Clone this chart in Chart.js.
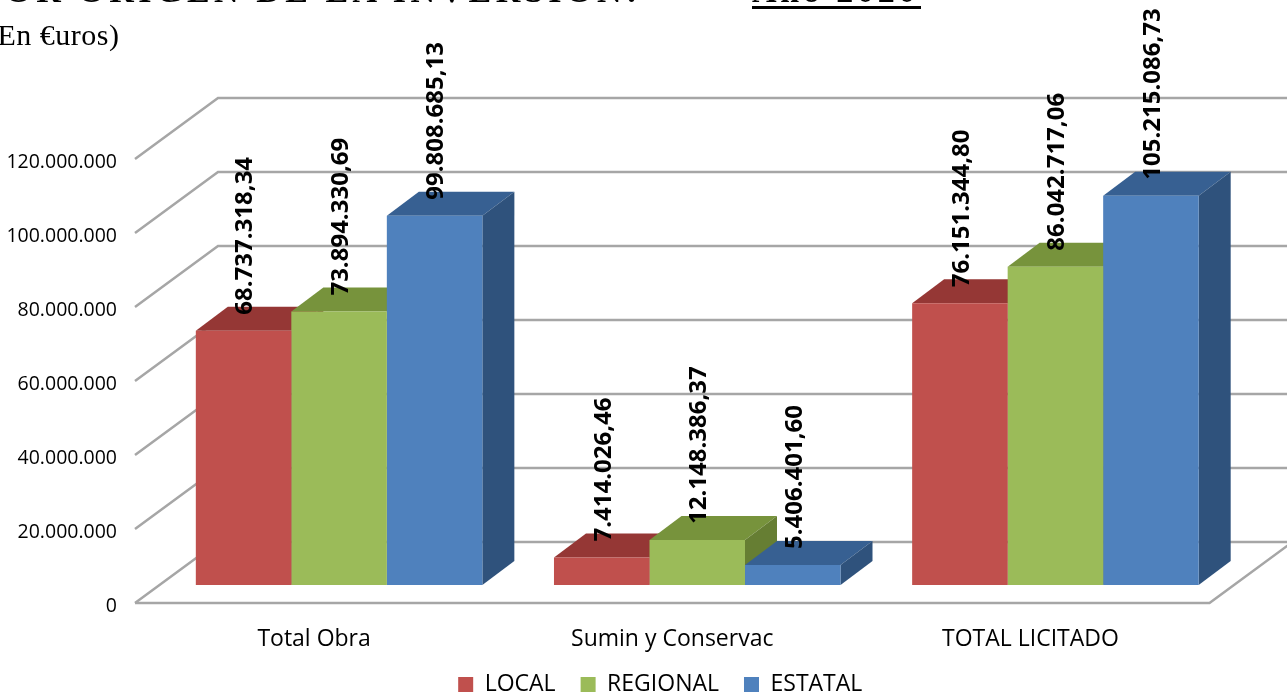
<!DOCTYPE html>
<html lang="es">
<head>
<meta charset="utf-8">
<title>Origen de la inversión</title>
<script src="https://cdn.jsdelivr.net/npm/chart.js@4"></script>
<style>
  html, body { margin:0; padding:0; background:#fff; width:1287px; height:695px; overflow:hidden; }
  #wrap { position:relative; width:1287px; height:695px; overflow:hidden; }
  canvas { position:absolute; left:0; top:0; }
  .head { position:absolute; font-family:'Liberation Serif', serif; color:#000; white-space:nowrap; line-height:1; }
  #headMain { left:-20px; top:-26px; font-size:34px; font-weight:bold; letter-spacing:4.5px; }
  #headYear { left:752px; top:-25px; width:169px; height:31px; line-height:32px; font-size:34px; font-weight:bold; letter-spacing:3.8px; border-bottom:3px solid #000; }
  #headUnit { left:-13px; top:20px; font-size:30px; letter-spacing:0.5px; }
</style>
</head>
<body>
<div id="wrap">
  <canvas id="chart" width="1287" height="695"></canvas>
  <div class="head" id="headMain">POR ORIGEN DE LA INVERSIÓN:</div>
  <div class="head" id="headYear">Año 2020</div>
  <div class="head" id="headUnit">(En €uros)</div>
</div>
<script>
/* Inversión licitada por origen - barras 3D dibujadas a mano sobre Chart.js */

const categories = ['Total Obra', 'Sumin y Conservac', 'TOTAL LICITADO'];
const local    = [68737318.34, 7414026.46, 76151344.80];
const regional = [73894330.69, 12148386.37, 86042717.06];
const estatal  = [99808685.13, 5406401.60, 105215086.73];
const seriesNames = ['LOCAL', 'REGIONAL', 'ESTATAL'];

const FRONT = ['#c0504d', '#9bbb59', '#4f81bd'];
const TOP   = ['#953735', '#77933c', '#376092'];
const SIDE  = ['#7f2f2d', '#667e33', '#2f527c'];
const GRID  = '#a6a6a6';

const AXIS_MAX = 120000000;
const FLOOR_PX = 18;    // bars stand this far above the front edge of the floor
const AREA_PX = 444;    // height of the plot area
const barsMin = -FLOOR_PX / AREA_PX * AXIS_MAX;

const fmtTick = v => String(Math.round(v)).replace(/\B(?=(\d{3})+$)/g, '.');
const fmtVal = v => {
  const [a, b] = v.toFixed(2).split('.');
  return a.replace(/\B(?=(\d{3})+$)/g, '.') + ',' + b;
};

const walls = {
  id: 'walls',
  beforeDatasetsDraw(chart) {
    const { ctx, chartArea, scales } = chart;
    const left = chartArea.left - 25, right = chartArea.right - 25;
    const dx = 83, dy = 61;
    ctx.save();
    ctx.strokeStyle = GRID;
    ctx.lineWidth = 2.5;
    scales.y.ticks.forEach(t => {
      const y = scales.y.getPixelForValue(t.value);
      ctx.beginPath();
      ctx.moveTo(left, y);
      ctx.lineTo(left + dx, y - dy);
      ctx.lineTo(right + dx, y - dy);
      ctx.stroke();
    });
    const y0 = scales.y.getPixelForValue(0);
    ctx.beginPath();
    ctx.moveTo(left, y0);
    ctx.lineTo(right, y0);
    ctx.lineTo(right + dx, y0 - dy);
    ctx.stroke();

    // caras superior y lateral, por detrás de las caras frontales
    const bx = 32, by = 24;
    chart.data.datasets.forEach((ds, i) => {
      chart.getDatasetMeta(i).data.forEach(bar => {
        const l = bar.x - bar.width / 2, r = bar.x + bar.width / 2;
        ctx.fillStyle = TOP[i];
        ctx.beginPath();
        ctx.moveTo(l, bar.y);
        ctx.lineTo(l + bx, bar.y - by);
        ctx.lineTo(r + bx, bar.y - by);
        ctx.lineTo(r, bar.y);
        ctx.closePath();
        ctx.fill();
        ctx.fillStyle = SIDE[i];
        ctx.beginPath();
        ctx.moveTo(r, bar.y);
        ctx.lineTo(r + bx, bar.y - by);
        ctx.lineTo(r + bx, bar.base - by);
        ctx.lineTo(r, bar.base);
        ctx.closePath();
        ctx.fill();
      });
    });
    ctx.restore();
  }
};

const valueLabels = {
  id: 'valueLabels',
  afterDatasetsDraw(chart) {
    const { ctx } = chart;
    ctx.save();
    ctx.font = 'bold 24px "Open Sans"';
    ctx.fillStyle = '#000';
    ctx.textAlign = 'left';
    ctx.textBaseline = 'middle';
    chart.data.datasets.forEach((ds, i) => {
      chart.getDatasetMeta(i).data.forEach((bar, j) => {
        ctx.save();
        ctx.translate(bar.x + 2, bar.y - 16);
        ctx.rotate(-Math.PI / 2);
        ctx.fillText(fmtVal(ds.data[j]), 0, 0);
        ctx.restore();
      });
    });
    ctx.restore();
  }
};

// la leyenda va centrada bajo el plano de las barras, no bajo el canvas
const legendPlace = {
  id: 'legendPlace',
  afterLayout(chart) {
    const lg = chart.legend;
    const h = lg.bottom - lg.top;
    lg.left += 43;
    lg.right += 43;
    lg.top = 648;
    lg.bottom = 648 + h;
  }
};

new Chart(document.getElementById('chart'), {
  type: 'bar',
  data: {
    labels: categories,
    datasets: [local, regional, estatal].map((vals, i) => ({
      label: seriesNames[i],
      data: vals,
      backgroundColor: FRONT[i],
      yAxisID: 'yBars',
      barPercentage: 1,
      categoryPercentage: 0.8
    }))
  },
  options: {
    responsive: false,
    animation: false,
    layout: { padding: { left: 0, right: 52.5, top: 159, bottom: -28 } },
    plugins: {
      tooltip: { enabled: false },
      legend: {
        position: 'bottom',
        labels: { boxWidth: 15, boxHeight: 15, padding: 25, color: '#000', font: { family: 'Open Sans', size: 23 } }
      }
    },
    scales: {
      x: {
        grid: { display: false },
        border: { display: false },
        afterFit: s => { s.height = 62; },
        ticks: { color: '#000', padding: 15, labelOffset: -25, maxRotation: 0, font: { family: 'Open Sans', size: 23 } }
      },
      y: {
        min: 0,
        max: AXIS_MAX,
        grid: { display: false, drawTicks: false },
        border: { display: false },
        afterFit: s => { s.width = 160; },
        ticks: { stepSize: 20000000, padding: 43, labelOffset: 3, color: '#000', font: { family: 'Open Sans', size: 19.5 }, callback: fmtTick }
      },
      yBars: { display: false, min: barsMin, max: barsMin + AXIS_MAX }
    }
  },
  plugins: [walls, valueLabels, legendPlace]
});
</script>
</body>
</html>
